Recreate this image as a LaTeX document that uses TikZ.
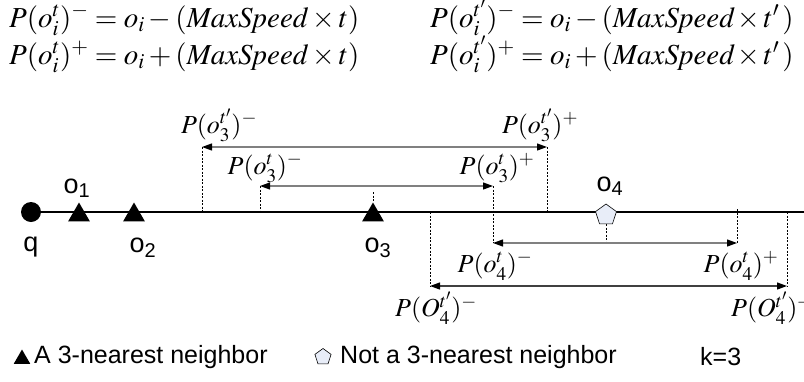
\documentclass[tikz,border=0pt]{standalone}
\usepackage{mathptmx}
\usepackage[no-math]{fontspec}
\newfontfamily\arial{Liberation Sans}
\usetikzlibrary{arrows.meta,shapes.geometric}
\tikzset{
  formula/.style={anchor=base west,inner sep=0pt,font=\fontsize{29}{32}\selectfont},
  lab/.style={inner sep=0pt,font=\fontsize{26}{30}\selectfont},
  sans/.style={inner sep=0pt,font=\arial\fontsize{27}{31}\selectfont},
  legend/.style={inner sep=0pt,anchor=west,font=\arial\fontsize{25}{29}\selectfont},
  tri/.style={regular polygon,regular polygon sides=3,fill=black,inner sep=0pt,minimum size=25pt},
  pent/.style={regular polygon,regular polygon sides=5,fill={rgb,255:red,232;green,237;blue,248},draw=black,line width=0.6pt,inner sep=0pt,minimum size=22pt},
  guide/.style={dashed,dash pattern=on 2pt off 1.5pt,line width=0.8pt},
  span/.style={line width=1.2pt,draw=gray,{Triangle[length=10pt,width=7pt,color=black]}-{Triangle[length=10pt,width=7pt,color=black]}},
}
\begin{document}
\begin{tikzpicture}[x=1pt,y=-1pt]
\useasboundingbox (0,0) rectangle (804,381);
% formulas
\node[formula] (f1) at (9,27) {$P(o_i^t)^- = o_i - (\mathit{MaxSpeed}\times t)$};
\node[formula] (f2) at (9,64) {$P(o_i^t)^+ = o_i + (\mathit{MaxSpeed}\times t)$};
\node[formula] (f3) at (430,27) {$P(o_i^{t'})^- = o_i - (\mathit{MaxSpeed}\mkern2mu{\times}\mkern2mu t'\mkern2mu)$};
\node[formula] (f4) at (430,64) {$P(o_i^{t'})^+ = o_i + (\mathit{MaxSpeed}\mkern2mu{\times}\mkern2mu t'\mkern2mu)$};
% main line
\coordinate (lend) at (806,212);
\node[circle,fill=black,inner sep=0pt,minimum size=20pt] (q) at (31,212) {};
\draw[line width=2.4pt] (q.center) -- (lend);
\node[tri] (o1) at (79,215) {};
\node[tri] (o2) at (134,215) {};
\node[tri] (o3) at (373,215) {};
\node[pent] (o4) at (606,215) {};
\node[sans] (lq) at (31,247) {q};
\node[sans] (lo1) at (77,188) {o\textsubscript{1}};
\node[sans] (lo2) at (143,248) {o\textsubscript{2}};
\node[sans] (lo3) at (378,248) {o\textsubscript{3}};
\node[sans] (lo4) at (610,186) {o\textsubscript{4}};
% coordinates of span ends
\coordinate (a1) at (202,147); \coordinate (a2) at (547,147);
\coordinate (b1) at (260,186); \coordinate (b2) at (493,186);
\coordinate (c1) at (493,243); \coordinate (c2) at (737,243);
\coordinate (d1) at (430,286); \coordinate (d2) at (787,286);
\coordinate (a1b) at (202,212); \coordinate (a2b) at (547,212);
\coordinate (b1b) at (260,212);
\coordinate (c2t) at (737,209);
\coordinate (d1t) at (430,212); \coordinate (d2t) at (787,212);
\coordinate (o3t) at (373,192);
% guides
\draw[guide] (a1) -- (a1b);
\draw[guide] (a2) -- (a2b);
\draw[guide] (b1) -- (b1b);
\draw[guide] (b2) -- (c1);
\draw[guide] (c2t) -- (c2);
\draw[guide] (d1t) -- (d1);
\draw[guide] (d2t) -- (d2);
\draw[guide] (o3t) -- (o3.north);
\draw[guide] (o4.south) -- (o4.south |- c1);
% spans
\draw[span] (a1) -- (a2);
\draw[span] (b1) -- (b2);
\draw[span] (c1) -- (c2);
\draw[span,draw=darkgray] (d1) -- (d2);
% labels
\node[lab] (la1) at (219,125) {$P(o_3^{t'})^-$};
\node[lab] (la2) at (540,125) {$P(o_3^{t'})^+$};
\node[lab] (lb1) at (265,168) {$P(o_3^{t})^-$};
\node[lab] (lb2) at (497,168) {$P(o_3^{t})^+$};
\node[lab] (lc1) at (495,266) {$P(o_4^{t})^-$};
\node[lab] (lc2) at (741,266) {$P(o_4^{t})^+$};
\node[lab] (ld1) at (436,308) {$P(O_4^{t'})^-$};
\node[lab] (ld2) at (772,308) {$P(O_4^{t'})^+$};
% legend
\node[tri,minimum size=19pt] (lt) at (22,359) {};
\node[legend] (lt1) at (34,357) {A 3-nearest neighbor};
\node[pent,minimum size=17pt] (lp) at (323,357) {};
\node[legend] (lp1) at (340,357) {Not a 3-nearest neighbor};
\node[legend] (lk) at (700,357) {k=3};
\end{tikzpicture}
\end{document}
